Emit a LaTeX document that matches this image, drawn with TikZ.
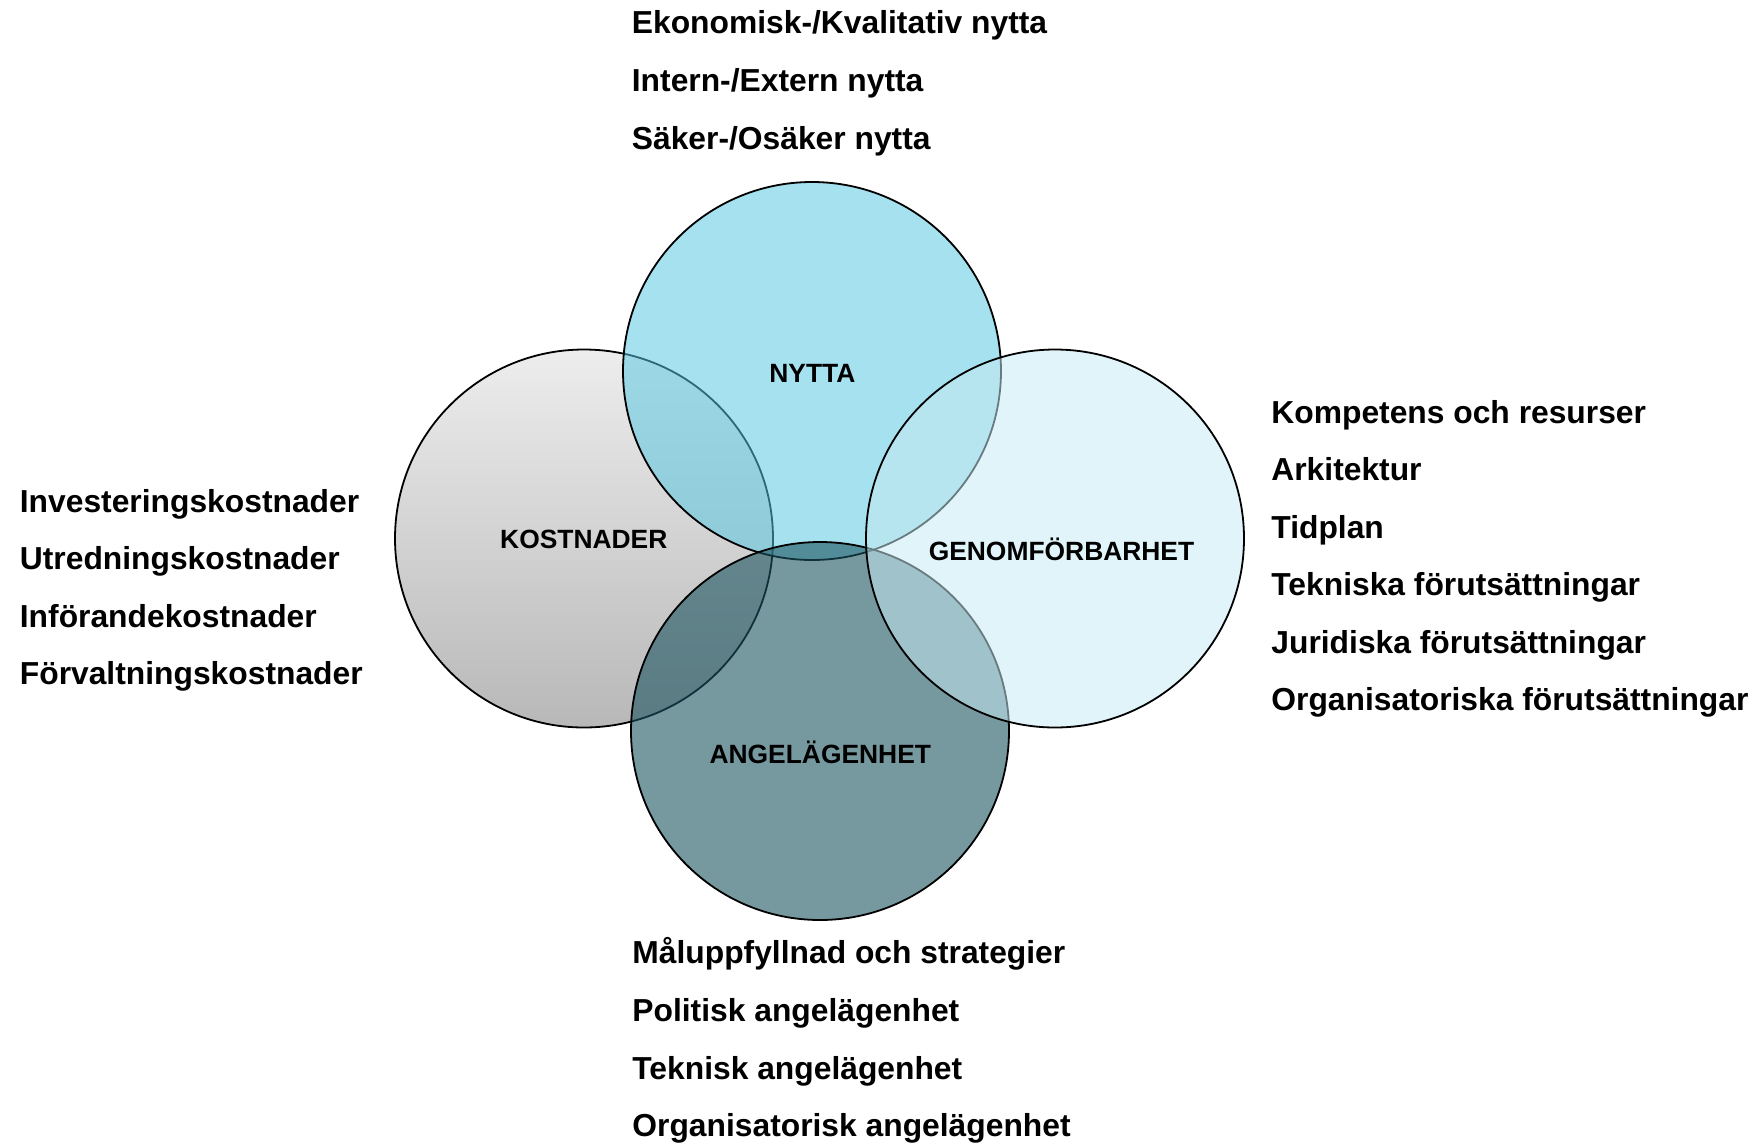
\documentclass[tikz,border=0pt]{standalone}
\usepackage{fontspec}
\setmainfont{Liberation Sans}
\begin{document}
\begin{tikzpicture}[x=0.5pt,y=-0.5pt,
  ring/.style={circle,inner sep=0pt,minimum size=189pt,draw=black,line width=0.9pt},
  biglabel/.style={inner sep=0pt,anchor=base,font=\fontsize{13.2}{15}\selectfont\bfseries},
  listitem/.style={inner sep=0pt,anchor=base west,font=\fontsize{15.9}{19}\selectfont\bfseries}]
\definecolor{kTop}{RGB}{237,237,237}
\definecolor{kBot}{RGB}{184,184,184}
\definecolor{nFill}{RGB}{85,198,223}
\definecolor{aFill}{RGB}{27,83,95}
\definecolor{gFill}{RGB}{198,234,243}
\useasboundingbox (0,0) rectangle (1757,1142);
% circles
\node[ring,top color=kTop,bottom color=kBot] (kost) at (584,538.5) {};
\node[ring,fill=nFill,fill opacity=0.53] (nytta) at (812,371) {};
\node[ring,fill=aFill,fill opacity=0.6] (angel) at (820,731) {};
\node[ring,fill=gFill,fill opacity=0.53] (genom) at (1055,538.5) {};
% circle labels
\node[biglabel] (lnytta) at (812.4,382.9) {NYTTA};
\node[biglabel] (lkost) at (583.8,548.7) {KOSTNADER};
\node[biglabel] (lgenom) at (1061.5,560.7) {GENOMFÖRBARHET};
\node[biglabel] (langel) at (820.3,763.9) {ANGELÄGENHET};
% top list
\node[listitem] (t1) at (631.5,33.5) {Ekonomisk-/Kvalitativ nytta};
\node[listitem] (t2) at (631.5,91.5) {Intern-/Extern nytta};
\node[listitem] (t3) at (631.5,149.5) {Säker-/Osäker nytta};
% left list
\node[listitem] (l1) at (19.5,512) {Investeringskostnader};
\node[listitem] (l2) at (19.5,569.5) {Utredningskostnader};
\node[listitem] (l3) at (19.5,627) {Införandekostnader};
\node[listitem] (l4) at (19.5,684.5) {Förvaltningskostnader};
% right list
\node[listitem] (r1) at (1271,423) {Kompetens och resurser};
\node[listitem] (r2) at (1271,480.5) {Arkitektur};
\node[listitem] (r3) at (1271,538) {Tidplan};
\node[listitem] (r4) at (1271,595.5) {Tekniska förutsättningar};
\node[listitem] (r5) at (1271,653) {Juridiska förutsättningar};
\node[listitem] (r6) at (1271,710.5) {Organisatoriska förutsättningar};
% bottom list
\node[listitem] (b1) at (632,963.5) {Måluppfyllnad och strategier};
\node[listitem] (b2) at (632,1021.5) {Politisk angelägenhet};
\node[listitem] (b3) at (632,1079.5) {Teknisk angelägenhet};
\node[listitem] (b4) at (632,1136.5) {Organisatorisk angelägenhet};
\end{tikzpicture}
\end{document}
